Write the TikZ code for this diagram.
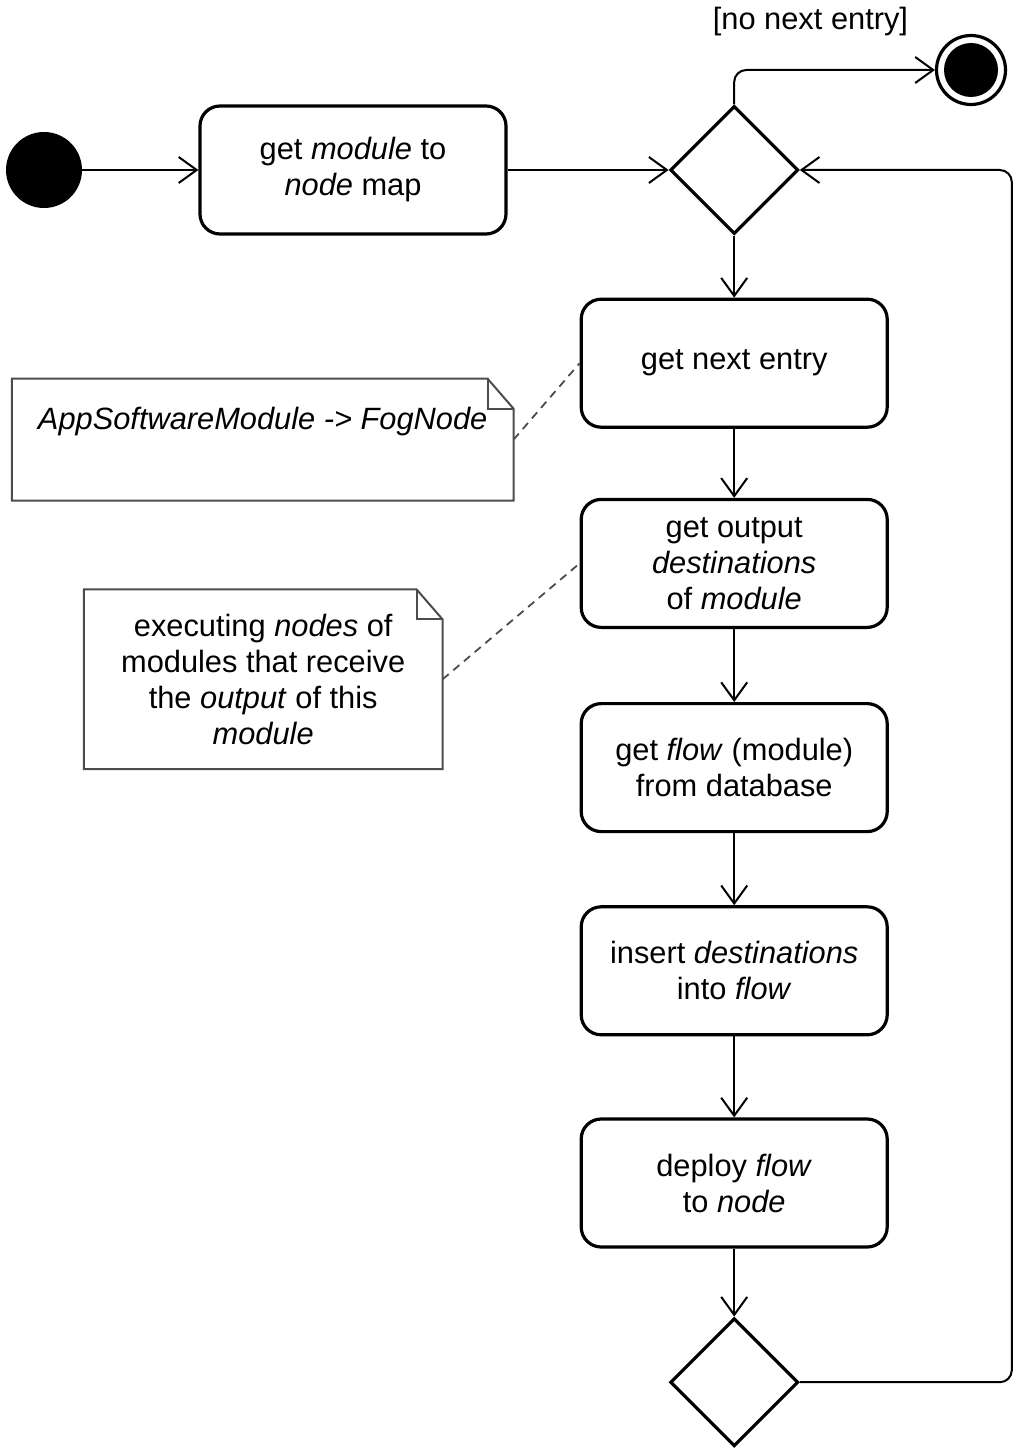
\documentclass[tikz,border=0pt]{standalone}
\usepackage{fontspec}
\setmainfont{Liberation Sans}
\usepackage{tikz}
\usetikzlibrary{arrows.meta}
\usetikzlibrary{shapes.geometric}
\usetikzlibrary{positioning}

\newcommand{\drawnote}[1]{%
        \draw[noteline] (#1.south west) -- (#1.north west) -- ([xshift=-13pt]#1.north east)
                -- ([yshift=-15pt]#1.north east) -- (#1.south east) -- cycle;
        \draw[noteline] ([xshift=-13pt]#1.north east) |- ([yshift=-15pt]#1.north east);
}

\begin{document}
\begin{tikzpicture}[x=0.5pt, y=-0.5pt,
        every node/.style={font=\fontsize{15.4}{18}\selectfont},
        action/.style={draw, rounded corners=10pt, line width=1.6pt, minimum width=153pt, minimum height=64pt, align=center, inner sep=2pt},
        decision/.style={draw, diamond, aspect=1, line width=1.6pt, minimum width=64pt, minimum height=64pt, inner sep=0pt},
        initial/.style={circle, fill, minimum size=38pt, inner sep=0pt},
        final/.style={circle, draw, line width=1.6pt, minimum size=34.5pt, inner sep=0pt,
                path picture={\fill (path picture bounding box.center) circle (13.5pt);}},
        flow/.style={-{Straight Barb[length=9pt,width=13pt]}, line width=1pt, rounded corners=6pt},
        notebox/.style={align=center, inner sep=0pt},
        noteline/.style={draw=black!70, line width=1pt},
        anchorline/.style={draw=black!70, line width=0.9pt, dash pattern=on 4pt off 3pt}]
        \useasboundingbox (0,0) rectangle (1022,1455);

        \node[initial] (start) at (44,170) {};
        \node[action, right=58pt of start] (getmap) {get \textit{module} to\\\textit{node} map};
        \node[decision, right=80.5pt of getmap] (more) {};
        \node[final] (stop) at (971,70) {};

        \node[action, below=31pt of more] (next) {get next entry};
        \node[action, below=34.5pt of next] (dests) {get output\\\textit{destinations}\\of \textit{module}};
        \node[action, below=36.5pt of dests] (getflow) {get \textit{flow} (module)\\from database};
        \node[action, below=36pt of getflow] (insert) {insert \textit{destinations}\\into \textit{flow}};
        \node[action, below=40.5pt of insert] (deploy) {deploy \textit{flow}\\to \textit{node}};
        \node[decision, below=34pt of deploy] (merge) {};
        \coordinate[right=106pt of merge.east] (loop);

        % notes
        \node[notebox, below left=7.75pt and 33pt of next.west, minimum width=250.5pt, minimum height=60.5pt,
                text height=11pt, text depth=21pt] (mapnote) {\textit{AppSoftwareModule -> FogNode}};
        \node[notebox, below left=13pt and 68.5pt of dests.west, minimum width=179pt, minimum height=89.5pt]
                (destnote) {executing \textit{nodes} of\\modules that receive\\the \textit{output} of this\\\textit{module}};
        \drawnote{mapnote}
        \drawnote{destnote}
        \draw[anchorline] (mapnote.east) -- (next.west);
        \draw[anchorline] (destnote.east) -- (dests.west);

        \draw[flow] (start) -- (getmap);
        \draw[flow] (getmap) -- (more);
        \draw[flow] (more.north) |- node[pos=0.69, above=13pt] {[no next entry]} (stop);
        \draw[flow] (more) -- (next);
        \draw[flow] (next) -- (dests);
        \draw[flow] (dests) -- (getflow);
        \draw[flow] (getflow) -- (insert);
        \draw[flow] (insert) -- (deploy);
        \draw[flow] (deploy) -- (merge);
        \draw[flow] (merge.east) -- (loop) |- (more.east);
\end{tikzpicture}
\end{document}
